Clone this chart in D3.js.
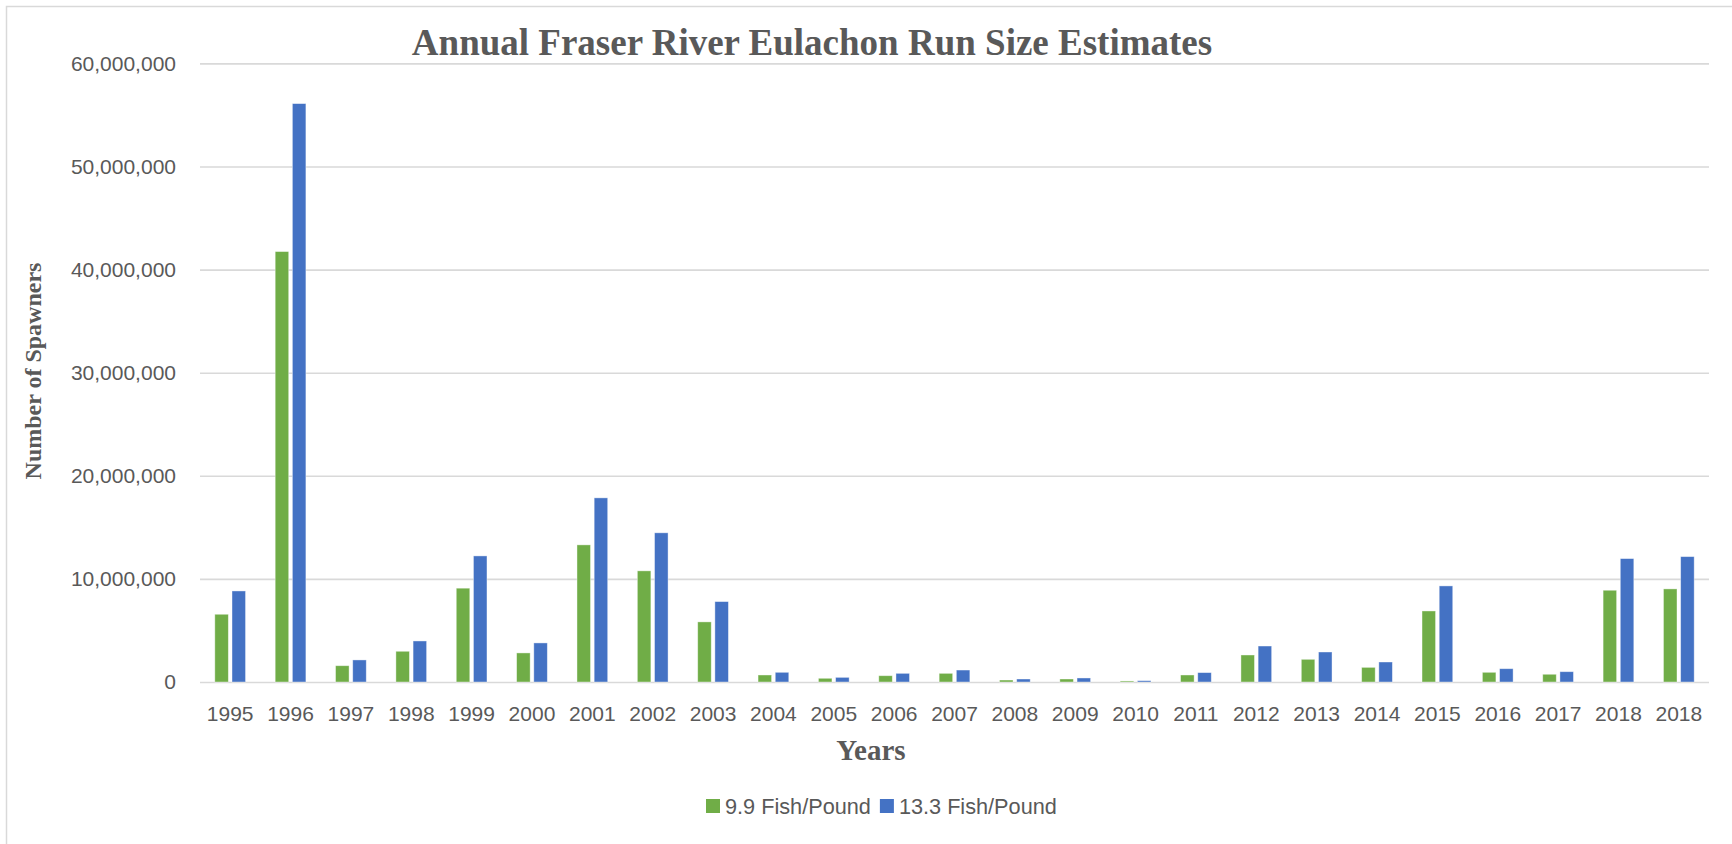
<!DOCTYPE html>
<html>
<head>
<meta charset="utf-8">
<script src="https://cdn.jsdelivr.net/npm/d3@7"></script>
<style>
  body { margin: 0; background: #fff; }
  svg { display: block; }
</style>
</head>
<body>
<div id="chart"><svg></svg></div>
<script>
// Data
const years = ["1995", "1996", "1997", "1998", "1999", "2000", "2001", "2002", "2003",
  "2004", "2005", "2006", "2007", "2008", "2009", "2010", "2011", "2012", "2013",
  "2014", "2015", "2016", "2017", "2018", "2018"];
const fish99 = [6570000, 41750000, 1580000, 2980000, 9100000, 2820000, 13300000, 10780000,
  5830000, 680000, 360000, 610000, 840000, 190000, 290000, 100000, 680000, 2620000,
  2200000, 1420000, 6890000, 940000, 750000, 8900000, 9030000];
const fish133 = [8830000, 56100000, 2140000, 3980000, 12230000, 3790000, 17860000, 14470000,
  7800000, 940000, 450000, 840000, 1160000, 290000, 390000, 130000, 910000, 3490000,
  2910000, 1940000, 9320000, 1290000, 1000000, 11970000, 12160000];
const seriesNames = ["9.9 Fish/Pound", "13.3 Fish/Pound"];
const seriesColors = ["#70AD47", "#4472C4"];
const yTicks = [0, 10000000, 20000000, 30000000, 40000000, 50000000, 60000000];

const width = 1732;
const height = 844;
const svg = d3.select("#chart svg").attr("width", width).attr("height", height);

const plotLeft = 200, plotRight = 1709, plotTop = 63.4, plotBottom = 682;

const x = d3.scaleBand().domain(d3.range(years.length)).range([plotLeft, plotRight]);
const y = d3.scaleLinear().domain([0, 60000000]).range([plotBottom, plotTop]);

// bars inside each year, Excel-like gap and small gap between the pair
const barW = x.bandwidth() / 4.46;
const inner = 2 * barW + 0.27 * barW;
const x1 = d3.scaleBand().domain([0, 1])
  .range([x.bandwidth() / 2 - inner / 2, x.bandwidth() / 2 + inner / 2])
  .paddingInner(0.27 / 1.27);

// chart border (right and bottom are cut off in the picture)
svg.append("path")
  .attr("d", `M6.5,${height} L6.5,6.5 L${width},6.5`)
  .attr("fill", "none")
  .attr("stroke", "#d9d9d9")
  .attr("stroke-width", 1.5);

// gridlines
svg.append("g")
  .attr("transform", `translate(${plotLeft},0)`)
  .call(d3.axisLeft(y).tickValues(yTicks).tickSize(-(plotRight - plotLeft)).tickFormat(""))
  .call(g => g.select(".domain").remove())
  .call(g => g.selectAll("line").attr("stroke", "#d9d9d9").attr("stroke-width", 1.6));

// y axis labels
svg.append("g")
  .attr("transform", `translate(${plotLeft},0)`)
  .call(d3.axisLeft(y).tickValues(yTicks).tickSize(0).tickPadding(24).tickFormat(d3.format(",")))
  .call(g => g.select(".domain").remove())
  .call(g => g.selectAll("text")
    .attr("fill", "#595959")
    .style("font-family", "'Liberation Sans', Arial, sans-serif")
    .style("font-size", "21px"));

// bars
const groups = svg.append("g").selectAll("g")
  .data(years.map((yr, i) => [fish99[i], fish133[i]]))
  .join("g")
  .attr("transform", (d, i) => `translate(${x(i)},0)`);

groups.selectAll("rect")
  .data(d => d)
  .join("rect")
  .attr("x", (d, j) => x1(j))
  .attr("width", x1.bandwidth())
  .attr("y", d => y(d))
  .attr("height", d => plotBottom - y(d))
  .attr("fill", (d, j) => seriesColors[j])
  .attr("stroke", "#ffffff")
  .attr("stroke-opacity", 0.5)
  .attr("stroke-width", 0.8);

// x axis
svg.append("g")
  .attr("transform", `translate(0,${plotBottom})`)
  .call(d3.axisBottom(x).tickSize(0).tickPadding(24).tickFormat(i => years[i]))
  .call(g => g.select(".domain").remove())
  .call(g => g.selectAll("text")
    .attr("fill", "#595959")
    .style("font-family", "'Liberation Sans', Arial, sans-serif")
    .style("font-size", "21px"));

// titles
svg.append("text")
  .text("Annual Fraser River Eulachon Run Size Estimates")
  .attr("x", 812)
  .attr("y", 55)
  .attr("text-anchor", "middle")
  .attr("fill", "#595959")
  .style("font-family", "'Liberation Serif', 'Times New Roman', serif")
  .style("font-weight", "bold")
  .style("font-size", "37px");

svg.append("text")
  .text("Number of Spawners")
  .attr("transform", "translate(41,371) rotate(-90)")
  .attr("text-anchor", "middle")
  .attr("fill", "#595959")
  .style("font-family", "'Liberation Serif', 'Times New Roman', serif")
  .style("font-weight", "bold")
  .style("font-size", "24px");

svg.append("text")
  .text("Years")
  .attr("x", 871)
  .attr("y", 760)
  .attr("text-anchor", "middle")
  .attr("fill", "#595959")
  .style("font-family", "'Liberation Serif', 'Times New Roman', serif")
  .style("font-weight", "bold")
  .style("font-size", "29px");

// legend
const legend = svg.append("g").attr("transform", "translate(706,799)");
let lx = 0;
seriesNames.forEach((name, j) => {
  legend.append("rect")
    .attr("x", lx).attr("y", 0)
    .attr("width", 14).attr("height", 14)
    .attr("fill", seriesColors[j]);
  const t = legend.append("text")
    .text(name)
    .attr("x", lx + 19)
    .attr("y", 14.5)
    .attr("fill", "#595959")
    .style("font-family", "'Liberation Sans', Arial, sans-serif")
    .style("font-size", "21.7px");
  lx += 19 + t.node().getComputedTextLength() + 9;
});
</script>
</body>
</html>
